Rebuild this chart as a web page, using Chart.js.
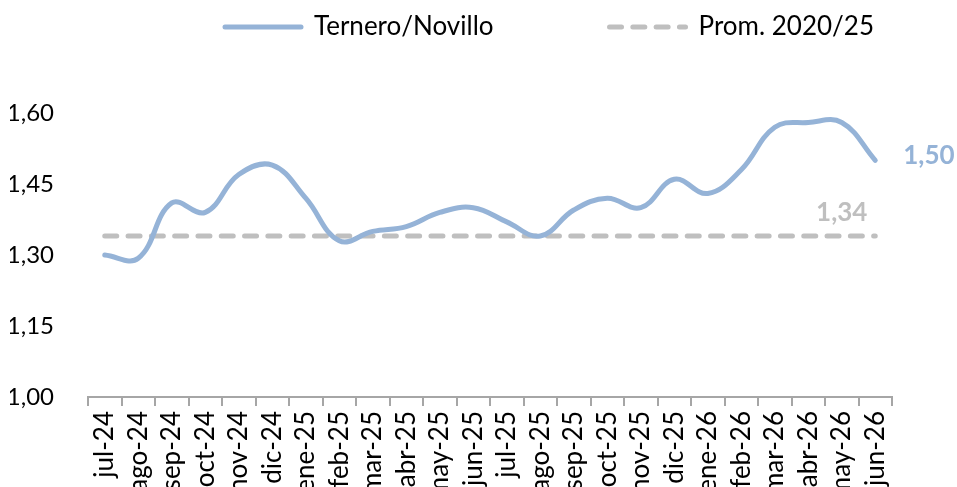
<!DOCTYPE html>
<html>
<head>
<meta charset="utf-8">
<script src="https://cdn.jsdelivr.net/npm/chart.js@4/dist/chart.umd.min.js"></script>
<style>
  html, body { margin: 0; padding: 0; background: #fff; overflow: hidden; }
  #wrap { width: 957px; height: 487px; position: relative; }
</style>
</head>
<body>
<div id="wrap"><canvas id="chart"></canvas></div>
<script>
// data
const meses = ['jul-24', 'ago-24', 'sep-24', 'oct-24', 'nov-24', 'dic-24', 'ene-25', 'feb-25', 'mar-25', 'abr-25', 'may-25', 'jun-25',
    'jul-25', 'ago-25', 'sep-25', 'oct-25', 'nov-25', 'dic-25', 'ene-26', 'feb-26', 'mar-26', 'abr-26', 'may-26', 'jun-26'];
const ternero = [1.30, 1.293, 1.41, 1.39, 1.47, 1.49, 1.42, 1.33, 1.35, 1.36, 1.39, 1.40,
    1.37, 1.34, 1.395, 1.42, 1.40, 1.46, 1.43, 1.48, 1.57, 1.58, 1.58, 1.50];
const promedio = [1.34, 1.34, 1.34, 1.34, 1.34, 1.34, 1.34, 1.34, 1.34, 1.34, 1.34, 1.34,
    1.34, 1.34, 1.34, 1.34, 1.34, 1.34, 1.34, 1.34, 1.34, 1.34, 1.34, 1.34];
const yTicks = [1.00, 1.15, 1.30, 1.45, 1.60];
const serieNames = ['Ternero/Novillo', 'Prom. 2020/25'];

const FONT = 'Lato';
const LEG_PAD = 116;

const fmt = v => v.toFixed(2).replace('.', ',');

// legend: fixed height and position (Excel-like spacing)
const legendPlace = {
    id: 'legendPlace',
    afterInit(chart) {
        const fit = chart.legend.fit;
        chart.legend.fit = function () {
            fit.call(this);
            this.height = 113;
        };
    },
    afterLayout(chart) {
        const lg = chart.legend;
        lg.left = 225 - LEG_PAD;
        lg.right = 2000;
        lg.top = 27 - LEG_PAD - 13;
    }
};

// value labels for the last point and the average
const valueLabels = {
    id: 'valueLabels',
    afterDatasetsDraw(chart) {
        const { ctx, scales: { x, y } } = chart;
        const last = ternero.length - 1;
        ctx.save();
        ctx.font = 'bold 26px ' + FONT;
        ctx.textBaseline = 'middle';
        ctx.textAlign = 'left';
        ctx.fillStyle = '#95B3D7';
        ctx.fillText(fmt(ternero[last]), x.getPixelForValue(last) + 28, y.getPixelForValue(ternero[last]) - 5);
        ctx.textAlign = 'center';
        ctx.fillStyle = '#BFBFBF';
        ctx.fillText(fmt(promedio[last]), x.getPixelForValue(last - 1), y.getPixelForValue(promedio[last]) - 23);
        ctx.restore();
    }
};

new Chart(document.getElementById('chart'), {
    type: 'line',
    data: {
        labels: meses,
        datasets: [
            {
                label: serieNames[0],
                data: ternero,
                borderColor: '#95B3D7',
                backgroundColor: '#95B3D7',
                borderWidth: 5,
                borderCapStyle: 'round',
                tension: 0.4,
                pointRadius: 0,
                fill: false
            },
            {
                label: serieNames[1],
                data: promedio,
                borderColor: '#BFBFBF',
                backgroundColor: '#BFBFBF',
                borderWidth: 5,
                borderDash: [12, 11.3],
                borderCapStyle: 'round',
                pointRadius: 0,
                fill: false
            }
        ]
    },
    options: {
        responsive: true,
        maintainAspectRatio: false,
        animation: false,
        layout: { padding: { left: 10, right: 65, top: 0, bottom: 0 } },
        scales: {
            x: {
                offset: true,
                grid: {
                    display: true,
                    drawOnChartArea: false,
                    offset: true,
                    tickLength: 9,
                    color: '#A6A6A6',
                    lineWidth: 2
                },
                border: { display: true, color: '#A6A6A6', width: 2 },
                ticks: {
                    color: '#000',
                    font: { family: FONT, size: 26 },
                    minRotation: 90,
                    maxRotation: 90,
                    autoSkip: false,
                    padding: 5
                },
                afterFit(scale) { scale.height = 90; }
            },
            y: {
                min: yTicks[0],
                max: yTicks[yTicks.length - 1],
                grid: { display: false },
                border: { display: false },
                afterBuildTicks(scale) { scale.ticks = yTicks.map(v => ({ value: v })); },
                ticks: {
                    color: '#000',
                    font: { family: FONT, size: 24 },
                    padding: 26,
                    callback: v => fmt(v)
                },
                afterFit(scale) { scale.width = 78; }
            }
        },
        plugins: {
            legend: {
                display: true,
                position: 'top',
                align: 'start',
                labels: {
                    usePointStyle: true,
                    pointStyle: 'line',
                    pointStyleWidth: 76,
                    padding: LEG_PAD,
                    color: '#000',
                    font: { family: FONT, size: 26, lineHeight: 1 },
                    generateLabels(chart) {
                        const items = Chart.defaults.plugins.legend.labels.generateLabels(chart);
                        items.forEach((it, i) => {
                            const ds = chart.data.datasets[i];
                            it.strokeStyle = ds.borderColor;
                            it.lineWidth = ds.borderWidth;
                            it.lineDash = ds.borderDash || [];
                            it.lineCap = 'round';
                            it.pointStyle = 'line';
                        });
                        return items;
                    }
                }
            },
            tooltip: { enabled: false },
            title: { display: false }
        }
    },
    plugins: [legendPlace, valueLabels]
});
</script>
</body>
</html>
